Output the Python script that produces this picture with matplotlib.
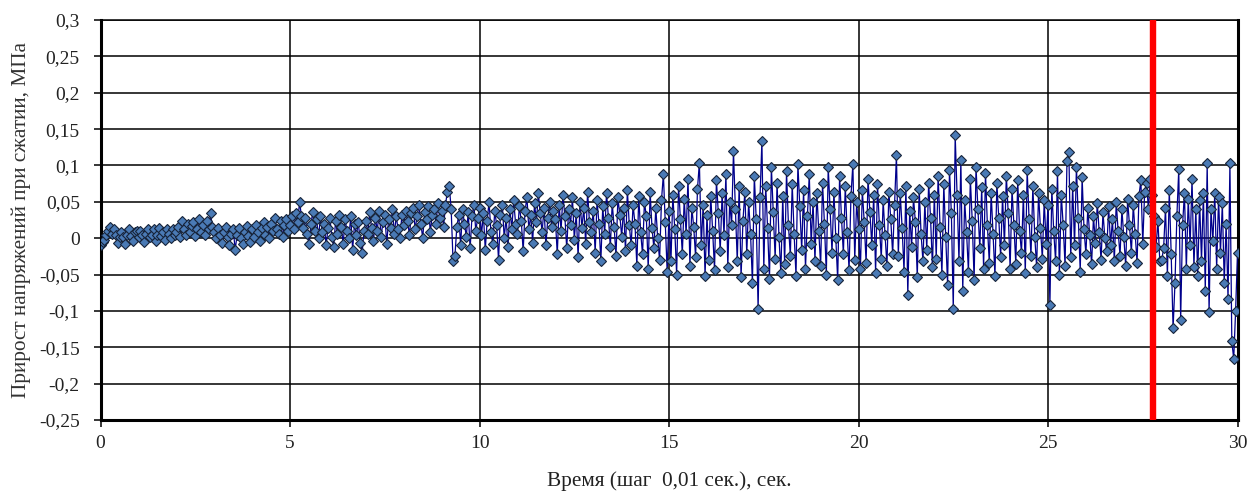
import numpy as np
import matplotlib
matplotlib.use("Agg")
import matplotlib.pyplot as plt
from matplotlib.ticker import FuncFormatter

# Time step used for the plotted series (s) and time span
t_start, t_end, t_step = 0.0, 30.0, 0.05

# Stress increment, thousandths of MPa, one row per second (20 values each)
s00 = [-10, -5, -2, 5, 10, 15, 6, 12, 4, -6, 2, 9, 1, -8, 5, 12, 3, -4, 8, 10]
s01 = [2, 10, 4, -5, 6, 13, 1, 5, 12, -4, 4, 14, 3, 9, -2, 12, 6, 0, 13, 5]
s02 = [8, 16, 2, 24, 12, 4, 20, 9, 17, 22, 3, 13, 26, 8, 18, 5, 23, 12, 34, 15]
s03 = [9, 0, 14, 5, -6, 8, 16, 1, -10, 6, 12, -16, 4, 14, 0, -8, 9, 17, 3, -5]
s04 = [12, 2, 18, 8, -4, 14, 22, 4, 16, 0, 20, 10, 28, 12, 6, 24, 2, 18, 26, 10]
s05 = [18, 30, 12, 34, 22, 50, 30, 14, 28, 6, -8, 20, 36, 10, 26, 0, 30, 8, 20, -10]
s06 = [14, 28, 2, -12, 24, 6, 32, 16, -8, 26, 10, 0, 30, -16, 20, 4, 22, -6, -20, 10]
s07 = [24, 6, 36, 14, -4, 28, 10, 38, 2, 22, 32, -8, 26, 14, 40, 6, 30, 12, 0, 32]
s08 = [18, 38, 24, 4, 34, 42, 12, 30, 46, 20, 0, 36, 26, 44, 8, 32, 40, 20, 48, 28]
s09 = [38, 16, 46, 64, 72, 40, -32, -24, 16, 32, -10, 40, 20, 2, 36, -14, 30, 46, 10, 28]
s10 = [42, 4, 34, -16, 24, 50, 8, -8, 38, 18, -30, 32, 46, 0, 28, -12, 40, 12, 52, 20]
s11 = [6, 44, 24, -18, 38, 56, 12, 32, -6, 48, 22, 62, 34, 8, 42, -10, 28, 50, 16, 38]
s12 = [26, -22, 46, 10, 60, 30, -14, 40, 18, 56, -2, 34, -26, 50, 14, 42, -8, 64, 22, 8]
s13 = [38, -20, 52, 20, -32, 44, 6, 62, 28, -12, 48, 16, -24, 56, 32, 2, 42, -18, 66, 18]
s14 = [-10, 46, 20, -38, 58, 8, -22, 50, 30, -42, 64, 14, -14, 42, 0, -30, 52, 88, 22, -46]
s15 = [38, -32, 60, 12, -50, 72, 26, -22, 54, 6, 82, -38, 42, 16, -26, 68, 104, -10, 46, -52]
s16 = [32, -30, 58, 10, -44, 80, 34, -18, 62, 4, 88, -40, 50, 18, 120, 40, -32, 72, -54, 24]
s17 = [64, -22, 50, 6, -62, 86, 26, -98, 56, 134, -42, 72, 14, -56, 98, 36, -28, 76, 2, -48]
s18 = [58, -36, 92, 18, -24, 74, 6, -52, 102, 44, -16, 66, -42, 30, 88, -8, 50, -32, 62, 10]
s19 = [-38, 76, 20, -50, 98, 40, -20, 64, 0, -58, 86, 28, -22, 72, 8, -44, 58, 102, -30, 50]
s20 = [12, -42, 66, 22, -34, 82, 36, -10, 60, -48, 74, 18, -28, 52, 4, -38, 64, 26, -22, 46]
s21 = [114, -24, 62, 14, -46, 72, -78, 38, -12, 56, 22, -54, 68, 6, -32, 50, -16, 76, 28, -40]
s22 = [60, -28, 86, 16, -50, 74, 2, -64, 94, 34, -98, 142, 60, -32, 108, -72, 52, 8, -46, 82]
s23 = [24, -58, 98, 40, -14, 70, -42, 90, 18, -34, 62, 6, -52, 76, 28, -26, 58, -10, 86, 34]
s24 = [-42, 68, 18, -36, 80, 10, -20, 60, -48, 94, 26, -24, 72, 2, -40, 62, 14, -28, 52, -8]
s25 = [46, -92, 68, 10, -32, 92, -50, 60, 18, -38, 106, 118, -26, 72, -10, 98, 28, -46, 84, 12]
s26 = [-22, 42, 4, -36, 30, -6, 48, 8, -30, 36, 0, -18, 44, -10, 26, -32, 50, 10, -24, 40]
s27 = [2, -38, 54, 18, -20, 46, 6, -34, 58, 80, -8, 64, 76, 40, 82, 60, 30, -12, 24, -32]
s28 = [-30, -14, 42, -52, 66, -22, -124, -62, 30, 95, -112, 18, 62, -42, 54, -10, 82, -40, 40, -52]
s29 = [52, -32, 62, -72, 103, -102, 40, -4, 62, -42, 56, -20, 48, -62, 20, -84, 103, -142, -166, -100]
s30 = [-20]

# Moment marked by the red vertical line (s)
marker_time = 27.78

# Axis ticks
x_ticks = [0, 5, 10, 15, 20, 25, 30]
y_ticks = [-0.25, -0.2, -0.15, -0.1, -0.05, 0, 0.05, 0.1, 0.15, 0.2, 0.25, 0.3]

rows = [s00, s01, s02, s03, s04, s05, s06, s07, s08, s09, s10, s11, s12, s13, s14,
        s15, s16, s17, s18, s19, s20, s21, s22, s23, s24, s25, s26, s27, s28, s29, s30]
stress = np.concatenate([np.array(r, dtype=float) for r in rows]) / 1000.0
time = np.arange(len(stress)) * t_step

plt.rcParams['font.family'] = ['Liberation Serif', 'DejaVu Serif']

fig = plt.figure(figsize=(12.5, 4.92), dpi=100)
ax = fig.add_axes([0.0805, 0.1463, 0.9095, 0.813])

ax.plot(time, stress, color='#00008B', lw=0.9, marker='D', markersize=5.4,
        markerfacecolor='#4A7AB5', markeredgecolor='#17243A', markeredgewidth=0.8,
        zorder=3)
ax.axvline(marker_time, color='#FF0000', lw=4.6, zorder=4)

ax.set_xlim(t_start, t_end)
ax.set_ylim(-0.25, 0.3)
ax.set_xticks(x_ticks)
ax.set_yticks(y_ticks)

def comma_fmt(v, pos):
    s = ('%.2f' % v).rstrip('0').rstrip('.')
    if s in ('-0', ''):
        s = '0'
    return s.replace('.', ',')

ax.yaxis.set_major_formatter(FuncFormatter(comma_fmt))
ax.xaxis.set_major_formatter(FuncFormatter(comma_fmt))

ax.grid(True, color='black', lw=1.1, zorder=1)
ax.set_axisbelow(True)
for side in ('left', 'bottom', 'right'):
    ax.spines[side].set_linewidth(2.2)
ax.spines['top'].set_linewidth(1.1)
for sp in ax.spines.values():
    sp.set_color('black')

ax.tick_params(axis='both', direction='out', length=5, width=1.1, labelsize=14,
               colors='black', labelcolor='#222222')
ax.tick_params(axis='y', pad=10)
ax.tick_params(axis='x', pad=6)

ax.set_xlabel('Время (шаг  0,01 сек.), сек.', fontsize=15.3, color='#222222', labelpad=14)
ax.set_ylabel('Прирост напряжений при сжатии, МПа', fontsize=15.3, color='#333333', labelpad=6)

fig.savefig('out.png', dpi=100)
